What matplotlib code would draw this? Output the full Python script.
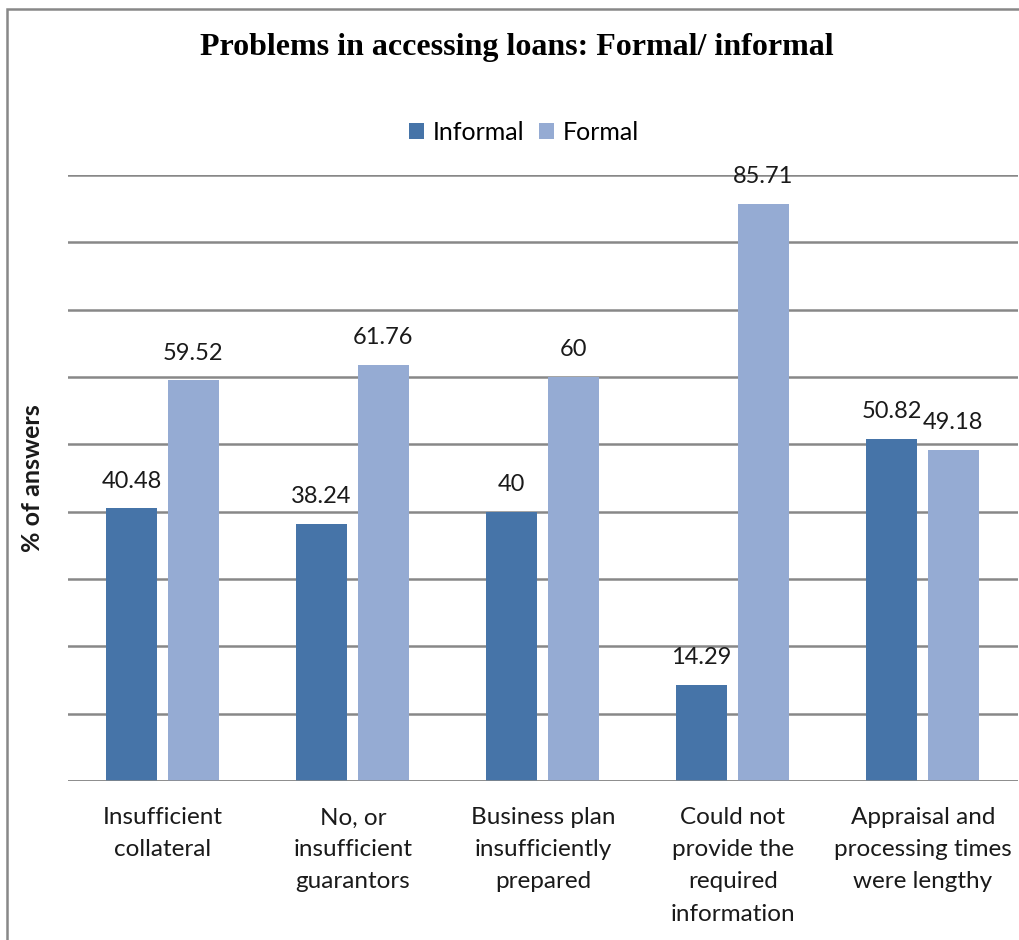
import numpy as np
import matplotlib.pyplot as plt
from matplotlib.patches import Rectangle

# data
categories = ["Insufficient\ncollateral", "No, or\ninsufficient\nguarantors",
              "Business plan\ninsufficiently\nprepared", "Could not\nprovide the\nrequired\ninformation",
              "Appraisal and\nprocessing times\nwere lengthy"]
informal = [40.48, 38.24, 40, 14.29, 50.82]
formal = [59.52, 61.76, 60, 85.71, 49.18]
informal_labels = ["40.48", "38.24", "40", "14.29", "50.82"]
formal_labels = ["59.52", "61.76", "60", "85.71", "49.18"]

plt.rcParams['font.family'] = ['Lato', 'DejaVu Sans']

fig = plt.figure(figsize=(10.19, 9.40), dpi=100)
ax = fig.add_axes([68/1019, 1 - 781/940, 950/1019, (781 - 175)/940])

x = np.arange(len(categories))
w = 0.268
b1 = ax.bar(x - 0.166, informal, w, color='#4674A8', label='Informal', zorder=3)
b2 = ax.bar(x + 0.160, formal, w, color='#95ABD3', label='Formal', zorder=3)

for bars, labs in ((b1, informal_labels), (b2, formal_labels)):
    for r, t in zip(bars, labs):
        ax.annotate(t, (r.get_x() + r.get_width()/2, r.get_height()),
                    xytext=(0, 12), textcoords='offset points',
                    ha='center', va='bottom', fontsize=17, color='#1a1a1a')

ax.set_xlim(-0.5, 4.5)
ax.set_ylim(0, 90)
ax.set_yticks(np.arange(0, 91, 10))
ax.set_yticklabels([])
ax.tick_params(axis='y', length=0)
ax.tick_params(axis='x', length=0, pad=19)
ax.set_xticks(x)
ax.set_xticklabels(categories, fontsize=17.5, color='#1a1a1a', linespacing=1.65, va='top')
ax.grid(axis='y', color='#888888', linewidth=1.8, zorder=0)
for s in ax.spines.values():
    s.set_visible(False)
ax.axhline(0, color='#888888', linewidth=1.8, zorder=4)

fig.text(33/1019, 1 - 478/940, '% of answers', rotation=90, ha='center', va='center',
         fontsize=18, fontweight='bold', color='#1a1a1a')

fig.text(517/1019, 1 - 48/940, 'Problems in accessing loans: Formal/ informal',
         ha='center', va='center', fontsize=23, fontweight='bold',
         family=['Liberation Serif', 'DejaVu Serif'])

fig.legend(handles=[b1, b2], loc='center', bbox_to_anchor=(524/1019, 1 - 132/940),
           ncol=2, frameon=False, fontsize=18, handlelength=0.6, handleheight=0.6,
           handletextpad=0.35, columnspacing=0.55)

# outer chart border (left and top visible)
fig.patches.append(Rectangle((7/1019, -0.1), 1.2, 1 - 9/940 + 0.1, transform=fig.transFigure,
                             fill=False, edgecolor='#888888', linewidth=1.8))

fig.savefig('out.png', dpi=100, facecolor='white')
